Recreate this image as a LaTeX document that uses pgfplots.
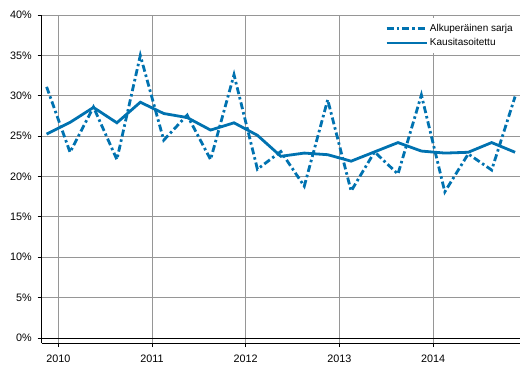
\documentclass[border=0pt]{standalone}
\usepackage{pgfplots}
\pgfplotsset{compat=1.18}
\usepackage{fontspec}
\setmainfont{Liberation Sans}
\definecolor{sblue}{RGB}{0,114,176}
\definecolor{gridgray}{RGB}{150,150,150}
\begin{document}
\begin{tikzpicture}[x=1pt,y=1pt]
\begin{axis}[
  scale only axis,
  width=478.3pt, height=328pt,
  xmin=-0.21, xmax=20.21,
  ymin=-0.62, ymax=40,
  axis x line*=bottom,
  axis y line*=left,
  axis line style={black, line width=0.8pt},
  xtick={0.5,4.5,8.5,12.5,16.5},
  xticklabels={2010,2011,2012,2013,2014},
  ytick={0,5,10,15,20,25,30,35,40},
  yticklabels={0\%,5\%,10\%,15\%,20\%,25\%,30\%,35\%,40\%},
  xmajorgrids, ymajorgrids,
  grid style={gridgray, line width=0.8pt},
  tick style={black, line width=0.8pt},
  tick align=outside,
  major tick length=4pt,
  ticklabel style={font=\fontsize{10.8}{13}\selectfont},
  /pgf/number format/assume math mode=true,
  xticklabel style={yshift=-4.5pt},
  yticklabel style={xshift=-2.5pt},
  clip=false,
  legend style={at={(rel axis cs:0.9958,0.992)}, anchor=north east, draw=none, fill=white,
    font=\fontsize{10}{12}\selectfont, inner xsep=3pt, inner ysep=4pt, row sep=2pt,
    cells={anchor=west}},
  legend cell align=left,
  legend image code/.code={\draw[#1] (0pt,0pt) -- (40pt,0pt);},
]
\addplot[black, line width=0.8pt, forget plot] coordinates {(-0.21,0) (20.21,0)};
\addplot[sblue, line width=2.8pt, dash pattern=on 7pt off 3pt on 2.5pt off 3pt] coordinates {
(0,31.1) (1,23.0) (2,28.6) (3,22.1) (4,35.0) (5,24.5) (6,27.6) (7,22.1) (8,32.6) (9,20.9)
(10,23.1) (11,18.8) (12,29.5) (13,18.2) (14,23.05) (15,20.3) (16,30.1) (17,18.1) (18,22.8) (19,20.8) (20,29.9)};
\addlegendentry{Alkuperäinen sarja}
\addplot[sblue, line width=2.8pt] coordinates {
(0,25.25) (1,26.7) (2,28.55) (3,26.65) (4,29.2) (5,27.8) (6,27.3) (7,25.75) (8,26.65) (9,25.1)
(10,22.5) (11,22.9) (12,22.7) (13,21.9) (14,23.05) (15,24.2) (16,23.15) (17,22.9) (18,23.0) (19,24.2) (20,23.0)};
\addlegendentry{Kausitasoitettu}
\end{axis}
\useasboundingbox (current axis.south west) ++(-41.7pt,-35pt) rectangle ([xshift=9pt,yshift=15pt]current axis.north east);
\end{tikzpicture}
\end{document}
